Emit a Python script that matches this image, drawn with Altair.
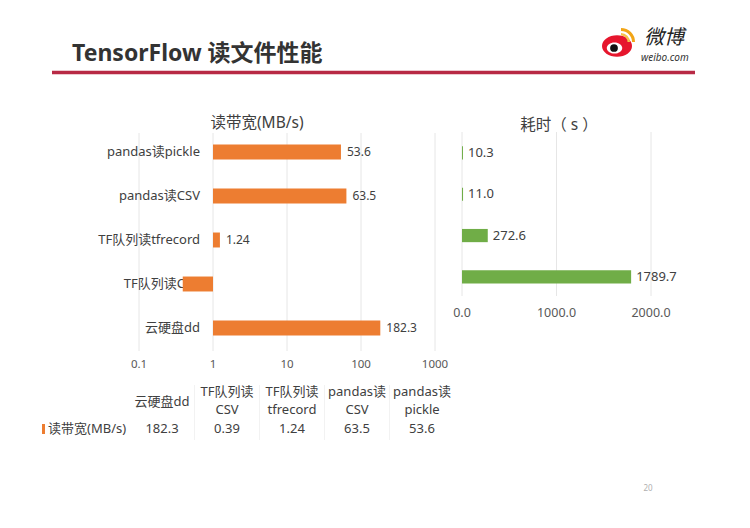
import altair as alt
import pandas as pd

FONT = "Noto Sans, Noto Sans CJK SC, sans-serif"

# ---------------- data ----------------
page_title = "TensorFlow 读文件性能"
left_title = "读带宽(MB/s)"
right_title = "耗时（ s ）"
page_number = "20"

bw_categories = ["pandas读pickle", "pandas读CSV", "TF队列读tfrecord", "TF队列读CSV", "云硬盘dd"]
bw_values = [53.6, 63.5, 1.24, 0.39, 182.3]
bw_labels = ["53.6", "63.5", "1.24", "0.39", "182.3"]

time_categories = ["pandas读pickle", "pandas读CSV", "TF队列读tfrecord", "TF队列读CSV"]
time_values = [10.3, 11.0, 272.6, 1789.7]
time_labels = ["10.3", "11.0", "272.6", "1789.7"]

left_ticks = [0.1, 1, 10, 100, 1000]
left_tick_labels = ["0.1", "1", "10", "100", "1000"]
right_ticks = [0, 1000, 2000]
right_tick_labels = ["0.0", "1000.0", "2000.0"]

table_keys = ["云硬盘dd", "TF队列读CSV", "TF队列读tfrecord", "pandas读CSV", "pandas读pickle"]
table_headers = ["云硬盘dd", "TF队列读\nCSV", "TF队列读\ntfrecord", "pandas读\nCSV", "pandas读\npickle"]
table_values = ["182.3", "0.39", "1.24", "63.5", "53.6"]
table_row_label = "读带宽(MB/s)"

ORANGE = "#ED7D31"
GREEN = "#70AD47"
TXT = "#404040"
GRID = "#e6e6e6"

bw_df = pd.DataFrame({"cat": bw_categories, "val": bw_values, "label": bw_labels,
                      "base": [1] * len(bw_values)})
time_df = pd.DataFrame({"cat": time_categories, "val": time_values, "label": time_labels,
                        "base": [0] * len(time_values)})
lt_df = pd.DataFrame({"t": left_ticks, "lab": left_tick_labels})
rt_df = pd.DataFrame({"t": right_ticks, "lab": right_tick_labels})
tab_df = pd.DataFrame({"key": table_keys, "head": table_headers, "val": table_values})


def one(text):
    return pd.DataFrame({"t": [text]})


# ---------------- header ----------------
title_txt = alt.Chart(one(page_title)).mark_text(
    align="left", baseline="alphabetic", fontSize=23, fontWeight="bold", color="#333333"
).encode(x=alt.value(64), y=alt.value(53), text="t:N")

red_line = alt.Chart(one("")).mark_rule(color="#B82A45", strokeWidth=3.5).encode(
    x=alt.value(44), x2=alt.value(687), y=alt.value(64.5))

ellipse = "M-1,0 A1,0.72 0 1,1 1,0 A1,0.72 0 1,1 -1,0 Z"
logo_red = alt.Chart(one("")).mark_point(shape=ellipse, size=900, filled=True, opacity=1,
                                          color="#E6162D").encode(x=alt.value(609), y=alt.value(38))
logo_white = alt.Chart(one("")).mark_point(shape=ellipse, size=240, filled=True, opacity=1,
                                            color="#ffffff").encode(x=alt.value(606.5), y=alt.value(40))
logo_pupil = alt.Chart(one("")).mark_point(shape="circle", size=60, filled=True, opacity=1,
                                            color="#111111").encode(x=alt.value(606), y=alt.value(40))
logo_arc1 = alt.Chart(one("")).mark_arc(theta=0, theta2=1.5708, radius=14, radius2=11,
                                         color="#F2A516").encode(x=alt.value(613), y=alt.value(34))
logo_arc2 = alt.Chart(one("")).mark_arc(theta=0, theta2=1.5708, radius=9, radius2=6.5,
                                         color="#F6C24A").encode(x=alt.value(613), y=alt.value(34))
logo_cn = alt.Chart(one("微博")).mark_text(align="left", baseline="alphabetic", fontSize=20,
                                          fontStyle="italic", color="#222222",
                                          font="Noto Sans CJK SC").encode(
    x=alt.value(636), y=alt.value(36), text="t:N")
logo_en = alt.Chart(one("weibo.com")).mark_text(align="left", baseline="alphabetic", fontSize=10,
                                                fontStyle="italic", color="#333333").encode(
    x=alt.value(633), y=alt.value(53), text="t:N")

pnum = alt.Chart(one(page_number)).mark_text(fontSize=8, color="#b0b0b0").encode(
    x=alt.value(640), y=alt.value(481), text="t:N")

header = alt.layer(title_txt, red_line, logo_red, logo_white, logo_pupil, logo_arc1,
                   logo_arc2, logo_cn, logo_en, pnum)

# ---------------- left chart (log) ----------------
lx = alt.Scale(type="log", domain=[0.1, 1000], range=[131, 427], nice=False)
ly = alt.Scale(domain=bw_categories, range=[122, 342], paddingInner=0.66, paddingOuter=0.33)

l_grid = alt.Chart(lt_df).mark_rule(color=GRID, strokeWidth=1).encode(
    x=alt.X("t:Q", scale=lx, axis=None), y=alt.value(125), y2=alt.value(343))
l_ticks = alt.Chart(lt_df).mark_text(fontSize=11.5, color="#595959", baseline="middle").encode(
    x=alt.X("t:Q", scale=lx, axis=None), y=alt.value(357), text="lab:N")
l_cats = alt.Chart(bw_df).mark_text(align="right", baseline="middle", fontSize=13, color=TXT).encode(
    x=alt.value(192), y=alt.Y("cat:N", scale=ly, axis=None), text="cat:N")
l_vals = alt.Chart(bw_df).mark_text(align="left", baseline="middle", dx=6, fontSize=12, color=TXT).encode(
    x=alt.X("val:Q", scale=lx, axis=None), y=alt.Y("cat:N", scale=ly, axis=None), text="label:N")
l_bars = alt.Chart(bw_df).mark_bar(color=ORANGE).encode(
    x=alt.X("val:Q", scale=lx, axis=None), x2="base:Q", y=alt.Y("cat:N", scale=ly, axis=None))
l_title = alt.Chart(one(left_title)).mark_text(fontSize=15.5, color=TXT, baseline="middle").encode(
    x=alt.value(249), y=alt.value(115), text="t:N")

left = alt.layer(l_grid, l_ticks, l_cats, l_vals, l_bars, l_title)

# ---------------- right chart (linear) ----------------
rx = alt.Scale(domain=[0, 2000], range=[454, 643], nice=False, zero=True)
ry = alt.Scale(domain=time_categories, range=[124.3, 289.5], paddingInner=0.68, paddingOuter=0.34)

r_grid = alt.Chart(rt_df).mark_rule(color=GRID, strokeWidth=1).encode(
    x=alt.X("t:Q", scale=rx, axis=None), y=alt.value(124), y2=alt.value(288))
r_ticks = alt.Chart(rt_df).mark_text(fontSize=12.5, color="#595959", baseline="middle").encode(
    x=alt.X("t:Q", scale=rx, axis=None), y=alt.value(305), text="lab:N")
r_bars = alt.Chart(time_df).mark_bar(color=GREEN).encode(
    x=alt.X("val:Q", scale=rx, axis=None), x2="base:Q", y=alt.Y("cat:N", scale=ry, axis=None))
r_vals = alt.Chart(time_df).mark_text(align="left", baseline="middle", dx=5, fontSize=13, color=TXT).encode(
    x=alt.X("val:Q", scale=rx, axis=None), y=alt.Y("cat:N", scale=ry, axis=None), text="label:N")
r_title = alt.Chart(one(right_title)).mark_text(fontSize=15.5, color=TXT, baseline="middle").encode(
    x=alt.value(551), y=alt.value(117), text="t:N")

right = alt.layer(r_grid, r_bars, r_vals, r_ticks, r_title)

# ---------------- data table ----------------
tx = alt.Scale(domain=table_keys, range=[121.5, 446.5], paddingInner=0, paddingOuter=0)
single = alt.datum.key == table_keys[0]

t_border = alt.Chart(tab_df.iloc[1:]).mark_rule(color="#f2f2f2", strokeWidth=1).encode(
    x=alt.X("key:N", scale=tx, axis=None, bandPosition=0), y=alt.value(377), y2=alt.value(432))
t_head1 = alt.Chart(tab_df).transform_filter(single).mark_text(
    fontSize=13, color=TXT, baseline="middle").encode(
    x=alt.X("key:N", scale=tx, axis=None), y=alt.value(394), text="head:N")
t_head2 = alt.Chart(tab_df).transform_filter(~single).mark_text(
    fontSize=13, color=TXT, baseline="middle", lineBreak="\n", lineHeight=18).encode(
    x=alt.X("key:N", scale=tx, axis=None), y=alt.value(384), text="head:N")
t_vals = alt.Chart(tab_df).mark_text(fontSize=13, color=TXT, baseline="middle").encode(
    x=alt.X("key:N", scale=tx, axis=None), y=alt.value(421), text="val:N")
t_rowlab = alt.Chart(one(table_row_label)).mark_text(align="left", baseline="middle", fontSize=13,
                                                     color=TXT).encode(
    x=alt.value(40), y=alt.value(421), text="t:N")
t_key = alt.Chart(one("")).mark_rule(color=ORANGE, strokeWidth=3).encode(
    x=alt.value(35.5), y=alt.value(416), y2=alt.value(426))

table = alt.layer(t_border, t_head1, t_head2, t_vals, t_rowlab, t_key)

chart = alt.layer(header, left, right, table).resolve_scale(
    x="independent", y="independent"
).properties(
    width=734, height=512, autosize=alt.AutoSizeParams(type="none"), padding=0,
    background="#ffffff"
).configure(font=FONT).configure_view(strokeWidth=0)

chart.save("out.html", embed_options={"renderer": "svg", "actions": False})
